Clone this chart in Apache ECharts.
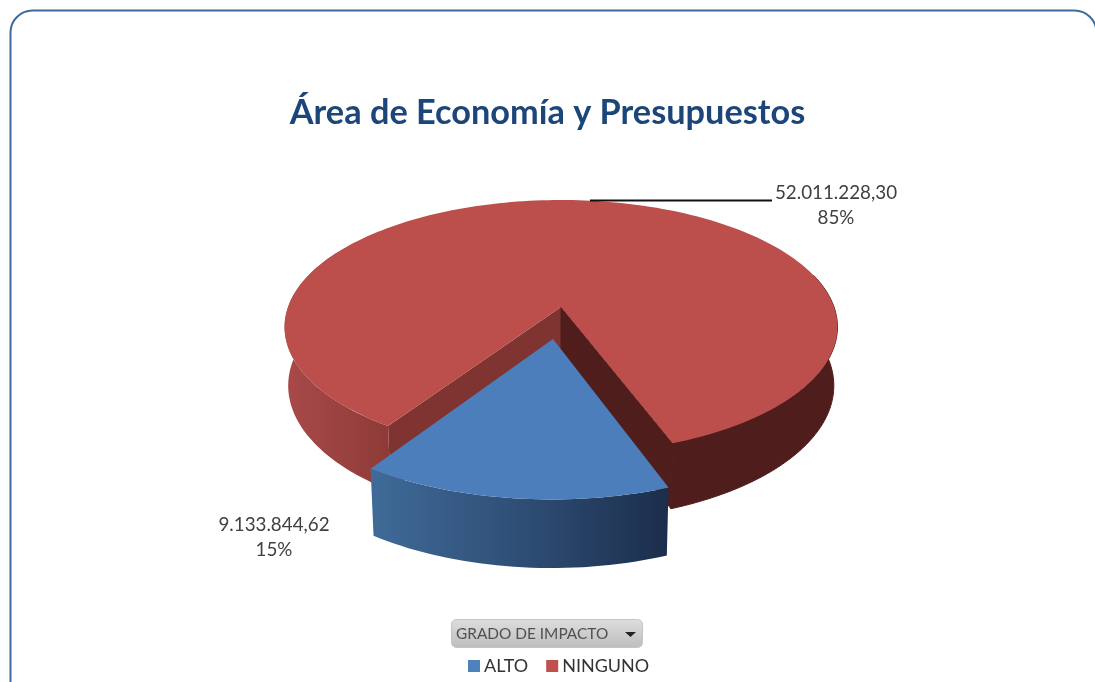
<!DOCTYPE html>
<html><head><meta charset="utf-8">
<style>html,body{margin:0;padding:0;background:#fff}#c{width:1095px;height:682px}</style>
<script src="https://cdn.jsdelivr.net/npm/echarts@6/dist/echarts.min.js"></script>
</head><body><div id="c"></div>
<script>
var chartTitle = 'Área de Economía y Presupuestos';
var categories = ['ALTO', 'NINGUNO'];
var amounts = [9133844.62, 52011228.30];
var filterLabel = 'GRADO DE IMPACTO';

var total = amounts.reduce(function (a, b) { return a + b; }, 0);
// projection of the tilted disc
var P = { cx: 561, cy: 307, R: 273, K: 123.85, p: 0.1575, D: 58.5, q: 0.013 };
var FIRST_ANGLE = 20.4;      // degrees right of the near axis
var EXPLODE = [0.25, 0];
var TOPS = ['#4c7ebb', '#bc4e4b'];
var LABELS = [
  { x: 274, y: 537 },
  { x: 836, y: 205, lead: [590, 200.5, 772, 200.5] }
];

function project(u, v, d) {
  var w = 1 - P.p * v + P.q * d;
  return [P.cx + P.R * u / w, P.cy + (P.K * v + P.D * d) / w];
}
function rim(a, b, d, ex, mid) {
  var pts = [], n = Math.max(2, Math.ceil(Math.abs(b - a) / 1.5));
  for (var i = 0; i <= n; i++) {
    var t = (a + (b - a) * i / n) * Math.PI / 180;
    pts.push(project(Math.sin(t) + ex * Math.sin(mid), Math.cos(t) + ex * Math.cos(mid), d));
  }
  return pts;
}
function wall(a, b, ex, mid, fill, stroke) {
  return { type: 'polygon', silent: true,
    shape: { points: rim(a, b, 0, ex, mid).concat(rim(b, a, 1, ex, mid)) },
    style: { fill: fill, stroke: stroke || null, lineWidth: stroke ? 1 : 0 } };
}
function hGrad(stops) {
  return new echarts.graphic.LinearGradient(0, 0, 1, 0,
    stops.map(function (c, i) { return { offset: i / (stops.length - 1), color: c }; }));
}
function formatAmount(v) {
  var s = v.toFixed(2).split('.');
  return s[0].replace(/\B(?=(\d{3})+$)/g, '.') + ',' + s[1];
}

function sliceRenderer(index) {
  return function (params, api) {
    var value = api.value(0);
    var before = amounts.slice(0, index).reduce(function (a, b) { return a + b; }, 0);
    var start = FIRST_ANGLE - before / total * 360;
    var end = start - value / total * 360;
    var midDeg = (start + end) / 2, mid = midDeg * Math.PI / 180, ex = EXPLODE[index];
    var kids = [];
    if (index === 0) {
      kids.push(wall(start, end, ex, mid, hGrad(['#3f6b98', '#2f4e76', '#1b2e4b'])));
    } else {
      var apexT = project(ex * Math.sin(mid), ex * Math.cos(mid), 0);
      var apexB = project(ex * Math.sin(mid), ex * Math.cos(mid), 1);
      // outer rim either side of the cut, then the two cut faces
      kids.push(wall(start, start - 85, ex, mid, hGrad(['#a9494a', '#8d3b37'])));
      kids.push(wall(end, end + 85, ex, mid, '#4f1e1c', '#4f1e1c'));
      var cL = rim(start, start, 0, ex, mid)[0], cLb = rim(start, start, 1, ex, mid)[0];
      var cR = rim(end, end, 0, ex, mid)[0], cRb = rim(end, end, 1, ex, mid)[0];
      kids.push({ type: 'polygon', silent: true, shape: { points: [apexT, cL, cLb, apexB] }, style: { fill: '#7f3431' } });
      kids.push({ type: 'polygon', silent: true, shape: { points: [apexT, cR, cRb, apexB] }, style: { fill: '#4f1e1c', stroke: '#4f1e1c', lineWidth: 1 } });
    }
    var apex = project(ex * Math.sin(mid), ex * Math.cos(mid), 0);
    kids.push({ type: 'polygon', silent: true,
      shape: { points: [apex].concat(rim(start, end, 0, ex, mid)) },
      style: { fill: TOPS[index] } });
    var lab = LABELS[index];
    kids.push({ type: 'text', silent: true, x: lab.x, y: lab.y,
      style: { text: formatAmount(value) + '\n' + Math.round(value / total * 100) + '%',
        fill: '#404040', font: '18.8px Lato', align: 'center', verticalAlign: 'middle', lineHeight: 25 } });
    if (lab.lead) {
      kids.push({ type: 'line', silent: true,
        shape: { x1: lab.lead[0], y1: lab.lead[1], x2: lab.lead[2], y2: lab.lead[3] },
        style: { stroke: '#111', lineWidth: 2 } });
    }
    return { type: 'group', children: kids };
  };
}

var chart = echarts.init(document.getElementById('c'), null, { renderer: 'canvas' });
chart.setOption({
  animation: false,
  backgroundColor: '#fff',
  title: { text: chartTitle, left: 'center', top: 91,
    textStyle: { color: '#1c4679', fontFamily: 'Lato', fontWeight: 'bold', fontSize: 34.3 } },
  legend: { left: 463, top: 652, itemWidth: 12, itemHeight: 12, itemGap: 18, icon: 'rect',
    data: categories, textStyle: { color: '#333', fontFamily: 'Lato', fontSize: 18, padding: [2, 0, 0, -1] } },
  graphic: [
    { type: 'rect', z: -1, shape: { x: 10.5, y: 10.5, width: 1086, height: 700, r: 22 },
      style: { fill: '#fff', stroke: '#3f6a9c', lineWidth: 2 } },
    { type: 'rect', shape: { x: 451.5, y: 619.5, width: 191, height: 28, r: 5 },
      style: { stroke: '#c4c4c4', lineWidth: 1,
        fill: new echarts.graphic.LinearGradient(0, 0, 0, 1, [
          { offset: 0, color: '#dedede' }, { offset: 1, color: '#bdbdbd' }]) } },
    { type: 'text', x: 456, y: 634, style: { text: filterLabel, fill: '#505050', font: '15.4px Lato', verticalAlign: 'middle' } },
    { type: 'polygon', shape: { points: [[625, 632], [636, 632], [630.5, 637]] }, style: { fill: '#222' } }
  ],
  series: [
    { type: 'custom', name: categories[1], coordinateSystem: 'none', silent: true, z: 2,
      itemStyle: { color: '#c0504d' }, data: [[amounts[1]]], renderItem: sliceRenderer(1) },
    { type: 'custom', name: categories[0], coordinateSystem: 'none', silent: true, z: 3,
      itemStyle: { color: '#4f81bd' }, data: [[amounts[0]]], renderItem: sliceRenderer(0) }
  ]
});
</script></body></html>
